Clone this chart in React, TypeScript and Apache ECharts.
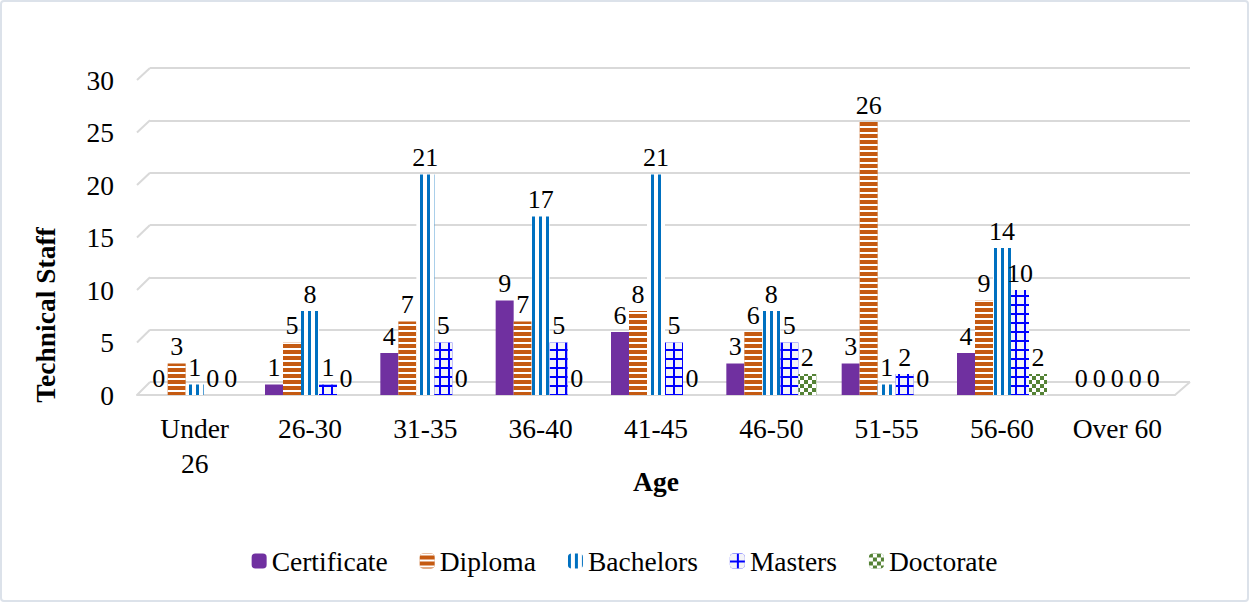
import React, { useEffect, useRef } from "react";
import * as echarts from "echarts";

const categories = ["Under\n26", "26-30", "31-35", "36-40", "41-45", "46-50", "51-55", "56-60", "Over 60"];
const certificate = [0, 1, 4, 9, 6, 3, 3, 4, 0];
const diploma = [3, 5, 7, 7, 8, 6, 26, 9, 0];
const bachelors = [1, 8, 21, 17, 21, 8, 1, 14, 0];
const masters = [0, 1, 5, 5, 5, 5, 2, 10, 0];
const doctorate = [0, 0, 0, 0, 0, 2, 0, 2, 0];
const yTicks = [0, 5, 10, 15, 20, 25, 30];

const FONT = "Liberation Serif";
const GRID_COLOR = "#D9D9D9";

export default function App() {
  const ref = useRef<HTMLDivElement>(null);
  useEffect(() => {
    document.body.style.margin = "0";
    const chart = echarts.init(ref.current!, null, { renderer: "svg" });
    const label = {
      show: true,
      position: "top" as const,
      distance: 4,
      fontFamily: FONT,
      fontSize: 26,
      color: "#000",
    };
    const mk = (name: string, data: number[], itemStyle: any) => ({
      name,
      type: "bar",
      data,
      xAxisIndex: 0,
      yAxisIndex: 0,
      barWidth: 18,
      barGap: "0%",
      label,
      itemStyle,
    });
    const yMin = yTicks[0];
    const yMax = yTicks[yTicks.length - 1];
    chart.setOption({
      animation: false,
      backgroundColor: "#fff",
      grid: [
        { left: 137, right: 74, top: 80, bottom: 207, containLabel: false },
        { left: 150, right: 59, top: 68, bottom: 220, containLabel: false },
      ],
      xAxis: [
        {
          type: "category",
          gridIndex: 0,
          data: categories,
          name: "Age",
          nameLocation: "middle",
          nameGap: 72,
          nameMoveOverlap: false,
          nameTextStyle: { fontFamily: FONT, fontSize: 27.5, fontWeight: "bold", color: "#000" },
          axisLine: { show: true, lineStyle: { color: GRID_COLOR, width: 2 } },
          axisTick: { show: false },
          axisLabel: { fontFamily: FONT, fontSize: 27.5, color: "#000", margin: 16, lineHeight: 35, interval: 0 },
        },
        {
          type: "category",
          gridIndex: 1,
          data: categories,
          show: false,
        },
      ],
      yAxis: [
        {
          type: "value",
          gridIndex: 0,
          min: yMin,
          max: yMax,
          interval: 5,
          axisLine: { show: false },
          axisTick: { show: false },
          axisLabel: { fontFamily: FONT, fontSize: 27.5, color: "#000", margin: 23 },
          splitLine: { show: false },
        },
        {
          type: "value",
          gridIndex: 1,
          min: yMin,
          max: yMax,
          interval: 5,
          axisLine: { show: false },
          axisTick: { show: false },
          axisLabel: { show: false },
          splitLine: { lineStyle: { color: GRID_COLOR, width: 2 } },
        },
      ],
      legend: {
        bottom: 22,
        left: "center",
        itemWidth: 15,
        itemHeight: 15,
        itemGap: 32,
        textStyle: { fontFamily: FONT, fontSize: 27.5, color: "#000" },
        data: ["Certificate", "Diploma", "Bachelors", "Masters", "Doctorate"],
      },
      series: [
        mk("Certificate", certificate, { color: "#7030A0" }),
        mk("Diploma", diploma, {
          color: "#C55A11",
          decal: { symbol: "rect", symbolSize: 1, color: "#fff", dashArrayX: [1, 0], dashArrayY: [2, 4] },
        }),
        mk("Bachelors", bachelors, {
          color: "#fff",
          decal: { symbol: "rect", symbolSize: 1, color: "#0070C0", dashArrayX: [3, 4], dashArrayY: [1, 0] },
        }),
        mk("Masters", masters, {
          color: "#0000FF",
          decal: { symbol: "rect", symbolSize: 1, color: "#F4F4F8", dashArrayX: [7, 1.5], dashArrayY: [7, 1.5] },
        }),
        mk("Doctorate", doctorate, {
          color: "#548235",
          decal: {
            symbol: "rect",
            symbolSize: 1,
            color: "#fff",
            dashArrayX: [[4, 4], [0, 4, 4, 0]],
            dashArrayY: [4, 0],
          },
        }),
      ],
    });

    // 3D-look connectors between front tick positions and back-wall gridlines
    const graphics: any[] = [];
    yTicks.forEach((t) => {
      const fy = chart.convertToPixel({ yAxisIndex: 0 }, t) as number;
      const by = chart.convertToPixel({ yAxisIndex: 1 }, t) as number;
      graphics.push({
        type: "line",
        shape: { x1: 137, y1: fy, x2: 150, y2: by },
        style: { stroke: GRID_COLOR, lineWidth: 2 },
        silent: true,
        z: 0,
      });
    });
    {
      const fy = chart.convertToPixel({ yAxisIndex: 0 }, 0) as number;
      const by = chart.convertToPixel({ yAxisIndex: 1 }, 0) as number;
      graphics.push({
        type: "line",
        shape: { x1: 1249 - 74, y1: fy, x2: 1249 - 59, y2: by },
        style: { stroke: GRID_COLOR, lineWidth: 2 },
        silent: true,
        z: 0,
      });
    }
    graphics.push({
      type: "text",
      x: 45,
      y: 315,
      rotation: Math.PI / 2,
      style: {
        text: "Technical Staff",
        fontFamily: FONT,
        fontSize: 27.5,
        fontWeight: "bold",
        fill: "#000",
        align: "center",
        verticalAlign: "middle",
      },
    });
    chart.setOption({ graphic: graphics });
    return () => chart.dispose();
  }, []);
  return (
    <div style={{ position: "relative", width: 1249, height: 602, background: "#fff" }}>
      <div ref={ref} style={{ position: "absolute", left: 0, top: 0, width: 1249, height: 602 }} />
      <div
        style={{
          position: "absolute",
          left: 0,
          top: 0,
          width: 1249,
          height: 602,
          boxSizing: "border-box",
          border: "2px solid #DCE2EA",
          borderRadius: 4,
          pointerEvents: "none",
        }}
      />
    </div>
  );
}
